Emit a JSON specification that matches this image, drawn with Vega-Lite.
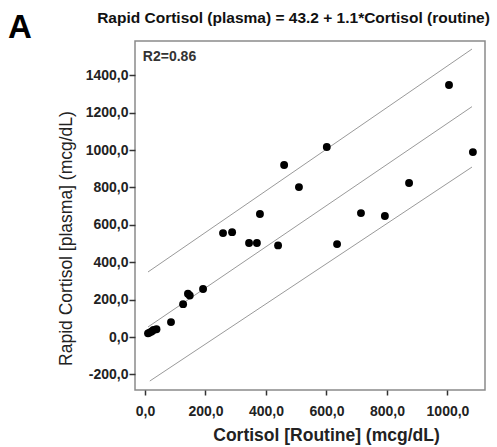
{
  "$schema": "https://vega.github.io/schema/vega-lite/v6.json",
  "width": 350,
  "height": 349,
  "autosize": {"type": "none"},
  "padding": {"left": 135, "top": 41, "right": 12, "bottom": 57},
  "background": "white",
  "title": {"text": "A", "anchor": "start", "frame": "group", "dx": -127, "dy": 5, "offset": -30, "fontSize": 33, "fontWeight": "bold", "font": "Liberation Sans", "color": "black"},
  "config": {
    "view": {"stroke": "#8a8a8a", "strokeWidth": 1.5},
    "font": "Liberation Sans"
  },
  "datasets": {
    "points": [
      {"routine": 10, "rapid": 20}, {"routine": 15, "rapid": 24}, {"routine": 22, "rapid": 30},
      {"routine": 28, "rapid": 38}, {"routine": 38, "rapid": 42}, {"routine": 86, "rapid": 80},
      {"routine": 126, "rapid": 176}, {"routine": 142, "rapid": 232}, {"routine": 148, "rapid": 222},
      {"routine": 192, "rapid": 257}, {"routine": 258, "rapid": 556}, {"routine": 288, "rapid": 561},
      {"routine": 344, "rapid": 503}, {"routine": 370, "rapid": 503}, {"routine": 380, "rapid": 658},
      {"routine": 440, "rapid": 490}, {"routine": 460, "rapid": 920}, {"routine": 509, "rapid": 802},
      {"routine": 601, "rapid": 1016}, {"routine": 635, "rapid": 497}, {"routine": 714, "rapid": 663},
      {"routine": 793, "rapid": 647}, {"routine": 873, "rapid": 824}, {"routine": 1005, "rapid": 1348},
      {"routine": 1084, "rapid": 989}
    ],
    "lines": [
      {"routine": 10, "rapid": 348, "line": "upper"}, {"routine": 1081, "rapid": 1540, "line": "upper"},
      {"routine": 10, "rapid": 54, "line": "fit"}, {"routine": 1081, "rapid": 1232, "line": "fit"},
      {"routine": 16, "rapid": -235, "line": "lower"}, {"routine": 1081, "rapid": 909, "line": "lower"}
    ],
    "notes": [{"label": "R2=0.86"}]
  },
  "resolve": {"axis": {"x": "independent", "y": "independent"}},
  "layer": [
    {
      "data": {"name": "lines"},
      "mark": {"type": "line", "color": "#9a9a9a", "strokeWidth": 1},
      "encoding": {
        "x": {"field": "routine", "type": "quantitative", "scale": {"domain": [-33, 1124], "nice": false, "zero": false},
          "axis": {"orient": "top", "labels": false, "ticks": false, "domain": false, "grid": false,
            "title": "Rapid Cortisol (plasma) = 43.2 + 1.1*Cortisol (routine)", "titleFontSize": 15.5, "titleFontWeight": "bold",
            "titleColor": "#111", "titleX": 158, "titleY": -19, "titleAlign": "center", "titleBaseline": "alphabetic"}},
        "y": {"field": "rapid", "type": "quantitative", "axis": null},
        "detail": {"field": "line"}
      }
    },
    {
      "data": {"name": "points"},
      "mark": {"type": "circle", "color": "black", "opacity": 1, "size": 62},
      "encoding": {
        "x": {"field": "routine", "type": "quantitative", "scale": {"domain": [-33, 1124], "nice": false, "zero": false},
          "axis": {"orient": "bottom", "values": [0, 200, 400, 600, 800, 1000], "grid": false, "domain": false,
            "labelExpr": "replace(format(datum.value, '.1f'), '.', ',')",
            "labelFontSize": 14, "labelFontWeight": "bold", "labelColor": "#222", "labelPadding": 9,
            "tickSize": 5, "tickColor": "#333", "tickWidth": 1.5,
            "title": "Cortisol [Routine] (mcg/dL)", "titleFontSize": 17.5, "titleFontWeight": "bold", "titleColor": "#222",
            "titleX": 191, "titleY": 50, "titleAlign": "center", "titleBaseline": "alphabetic"}},
        "y": {"field": "rapid", "type": "quantitative", "scale": {"domain": [-283, 1583], "nice": false, "zero": false},
          "axis": {"values": [-200, 0, 200, 400, 600, 800, 1000, 1200, 1400], "grid": false, "domain": false,
            "labelExpr": "replace(replace(format(datum.value, '.1f'), '.', ','), '\u2212', '-')",
            "labelFontSize": 14, "labelFontWeight": "bold", "labelColor": "#222", "labelPadding": 1,
            "tickSize": 6, "tickColor": "#333", "tickWidth": 1.5,
            "title": "Rapid Cortisol [plasma] (mcg/dL)", "titleFontSize": 17.5, "titleFontWeight": "normal", "titleColor": "#222",
            "titleX": -64, "titleY": 197, "titleAlign": "center", "titleBaseline": "alphabetic", "titleAngle": 270}}
      }
    },
    {
      "data": {"name": "notes"},
      "mark": {"type": "text", "align": "left", "baseline": "alphabetic", "fontSize": 14, "fontWeight": "bold", "color": "#333"},
      "encoding": {
        "x": {"datum": -7, "type": "quantitative", "axis": null},
        "y": {"datum": 1476, "type": "quantitative", "axis": null},
        "text": {"field": "label"}
      }
    }
  ]
}
